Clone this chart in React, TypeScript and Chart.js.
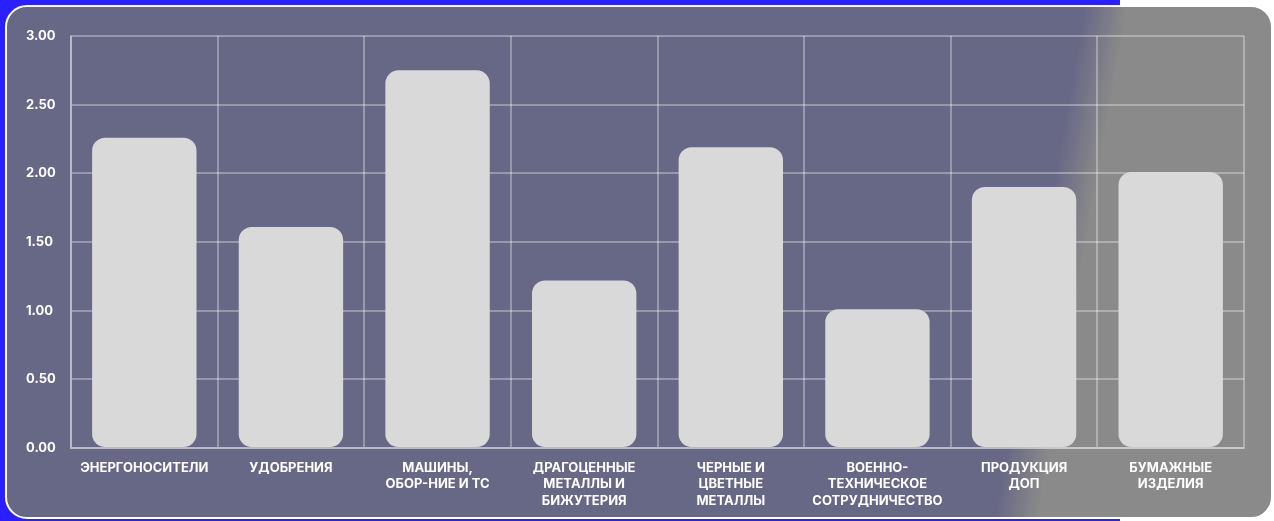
import React, { useEffect, useRef } from "react";
import { Chart, registerables } from "chart.js";

Chart.register(...registerables);

const categories: string[][] = [
  ["ЭНЕРГОНОСИТЕЛИ"],
  ["УДОБРЕНИЯ"],
  ["МАШИНЫ,", "ОБОР-НИЕ И ТС"],
  ["ДРАГОЦЕННЫЕ", "МЕТАЛЛЫ И", "БИЖУТЕРИЯ"],
  ["ЧЕРНЫЕ И", "ЦВЕТНЫЕ", "МЕТАЛЛЫ"],
  ["ВОЕННО-", "ТЕХНИЧЕСКОЕ", "СОТРУДНИЧЕСТВО"],
  ["ПРОДУКЦИЯ", "ДОП"],
  ["БУМАЖНЫЕ", "ИЗДЕЛИЯ"],
];

const values: number[] = [2.26, 1.61, 2.75, 1.22, 2.19, 1.01, 1.9, 2.01];

const yMin = 0;
const yMax = 3;
const yStep = 0.5;

export default function App() {
  const ref = useRef<HTMLCanvasElement | null>(null);

  useEffect(() => {
    document.body.style.margin = "0";
    if (!ref.current) return;
    const grid = "rgba(255,255,255,0.32)";
    const chart = new Chart(ref.current, {
      type: "bar",
      data: {
        labels: categories,
        datasets: [
          {
            data: values,
            backgroundColor: "#d9d9d9",
            borderRadius: 13,
            borderSkipped: false,
            barPercentage: 0.712,
            categoryPercentage: 1,
          },
        ],
      },
      options: {
        animation: false,
        responsive: false,
        maintainAspectRatio: false,
        layout: { padding: { left: 26, right: 30, top: 36, bottom: 0 } },
        plugins: { legend: { display: false }, tooltip: { enabled: false } },
        scales: {
          x: {
            grid: { color: grid, lineWidth: 2, drawTicks: false, offset: true },
            border: { color: grid, width: 2 },
            ticks: {
              color: "#ffffff",
              padding: 12,
              maxRotation: 0,
              autoSkip: false,
              font: { family: "Inter", weight: "bold", size: 13, lineHeight: 1.25 },
            },
            afterFit: (s: any) => {
              s.height = 73;
            },
          },
          y: {
            min: yMin,
            max: yMax,
            grid: { color: grid, lineWidth: 2, drawTicks: false },
            border: { color: grid, width: 2 },
            ticks: {
              stepSize: yStep,
              color: "#ffffff",
              crossAlign: "far",
              font: { family: "Inter", weight: "bold", size: 13 },
              callback: (v: any) => Number(v).toFixed(2),
            },
            afterFit: (s: any) => {
              s.width = 45;
            },
          },
        },
      },
    });
    return () => chart.destroy();
  }, []);

  return (
    <div style={{ position: "fixed", left: 0, top: 0, width: 1274, height: 521, background: "#ffffff", overflow: "hidden" }}>
      <div style={{ position: "absolute", left: 0, top: 0, width: 1120, height: 521, background: "#2a1fff" }} />
      <div
        style={{
          position: "absolute",
          left: 5,
          top: 5,
          width: 1268,
          height: 514,
          boxSizing: "border-box",
          border: "2px solid #ffffff",
          borderRadius: 22,
          background: "linear-gradient(100deg, #676786 0%, #676786 79.5%, #8a8a8a 82.8%, #8a8a8a 100%)",
        }}
      />
      <canvas ref={ref} width={1274} height={521} style={{ position: "absolute", left: 0, top: 0, width: 1274, height: 521 }} />
    </div>
  );
}
